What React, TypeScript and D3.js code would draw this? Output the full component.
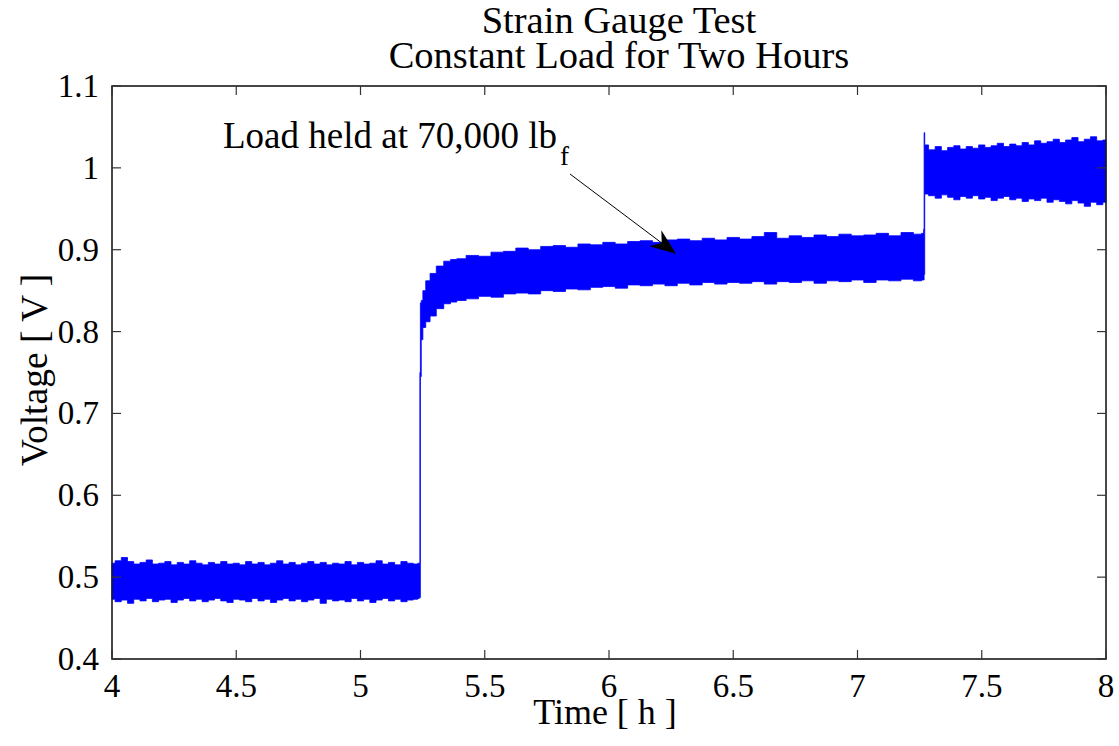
import React from "react";
import * as d3 from "d3";

// ---- Data ----
const titleLines = ["Strain Gauge Test", "Constant Load for Two Hours"];
const xLabel = "Time [ h ]";
const yLabel = "Voltage [ V ]";
const xTicks = [4, 4.5, 5, 5.5, 6, 6.5, 7, 7.5, 8];
const xTickLabels = ["4", "4.5", "5", "5.5", "6", "6.5", "7", "7.5", "8"];
const yTicks = [0.4, 0.5, 0.6, 0.7, 0.8, 0.9, 1.0, 1.1];
const yTickLabels = ["0.4", "0.5", "0.6", "0.7", "0.8", "0.9", "1", "1.1"];

// Envelope of the noisy voltage signal: time (h), upper and lower voltage (V)
const timeH = [
  // before the load step
  4.0, 4.025, 4.05, 4.075, 4.1, 4.125, 4.15, 4.175, 4.2, 4.225,
  4.25, 4.275, 4.3, 4.325, 4.35, 4.375, 4.4, 4.425, 4.45, 4.475,
  4.5, 4.525, 4.55, 4.575, 4.6, 4.625, 4.65, 4.675, 4.7, 4.725,
  4.75, 4.775, 4.8, 4.825, 4.85, 4.875, 4.9, 4.925, 4.95, 4.975,
  5.0, 5.025, 5.05, 5.075, 5.1, 5.125, 5.15, 5.175, 5.2, 5.225,
  5.236,
  // load held
  5.238, 5.24, 5.242, 5.247, 5.255, 5.27, 5.29, 5.32, 5.35, 5.375,
  5.4, 5.45, 5.5, 5.55, 5.6, 5.65, 5.7, 5.75, 5.8, 5.85,
  5.9, 5.95, 6.0, 6.05, 6.1, 6.15, 6.2, 6.25, 6.3, 6.35,
  6.4, 6.45, 6.5, 6.55, 6.6, 6.65, 6.7, 6.75, 6.8, 6.85,
  6.9, 6.95, 7.0, 7.05, 7.1, 7.15, 7.2, 7.25, 7.265,
  // after the second step
  7.267, 7.269, 7.272,
  7.3, 7.325, 7.35, 7.375, 7.4, 7.425, 7.45, 7.475, 7.5, 7.525,
  7.55, 7.575, 7.6, 7.625, 7.65, 7.675, 7.7, 7.725, 7.75, 7.775,
  7.8, 7.825, 7.85, 7.875, 7.9, 7.925, 7.95, 7.975, 8.0,
];
const upperV = [
  0.517, 0.52, 0.524, 0.519, 0.516, 0.518, 0.521, 0.516, 0.517, 0.519,
  0.515, 0.518, 0.516, 0.52, 0.517, 0.515, 0.518, 0.516, 0.519, 0.516,
  0.517, 0.515, 0.519, 0.516, 0.518, 0.515, 0.517, 0.52, 0.516, 0.518,
  0.515, 0.517, 0.519, 0.516, 0.518, 0.515, 0.517, 0.516, 0.519, 0.515,
  0.518, 0.516, 0.517, 0.52, 0.516, 0.518, 0.515, 0.519, 0.517, 0.516,
  0.517,
  0.517, 0.75, 0.835, 0.838, 0.85, 0.862, 0.871, 0.88, 0.886, 0.888,
  0.889, 0.893, 0.892, 0.897, 0.898, 0.902, 0.9, 0.904, 0.905, 0.903,
  0.907, 0.906, 0.909, 0.907, 0.91, 0.911, 0.909, 0.912, 0.913, 0.911,
  0.914, 0.912, 0.915, 0.913, 0.916, 0.921, 0.914, 0.917, 0.915, 0.918,
  0.916, 0.919, 0.917, 0.918, 0.92, 0.917, 0.921, 0.919, 0.92,
  0.925, 1.043, 1.028,
  1.022, 1.026, 1.021, 1.025, 1.027, 1.023, 1.026, 1.024, 1.028, 1.025,
  1.027, 1.03, 1.026, 1.029, 1.027, 1.031, 1.028, 1.033, 1.03, 1.032,
  1.035, 1.031, 1.034, 1.037, 1.032, 1.035, 1.038, 1.033, 1.034,
];
const lowerV = [
  0.473, 0.47, 0.472, 0.468, 0.473, 0.471, 0.474, 0.47, 0.472, 0.473,
  0.469, 0.472, 0.474, 0.471, 0.473, 0.47, 0.472, 0.474, 0.471, 0.469,
  0.473, 0.472, 0.47, 0.474, 0.471, 0.473, 0.469, 0.472, 0.474, 0.471,
  0.473, 0.47, 0.472, 0.474, 0.468, 0.473, 0.471, 0.472, 0.47, 0.474,
  0.471, 0.473, 0.469, 0.472, 0.474, 0.471, 0.473, 0.47, 0.472, 0.473,
  0.474,
  0.475, 0.475, 0.745, 0.79, 0.805, 0.812, 0.819, 0.828, 0.834, 0.836,
  0.838, 0.84, 0.843, 0.842, 0.846, 0.847, 0.846, 0.85, 0.849, 0.852,
  0.851, 0.854, 0.855, 0.853, 0.857, 0.856, 0.858, 0.856, 0.859, 0.857,
  0.86, 0.858, 0.86, 0.859, 0.861, 0.858, 0.861, 0.86, 0.862, 0.859,
  0.862, 0.861, 0.863, 0.86, 0.863, 0.862, 0.864, 0.862, 0.863,
  0.863, 0.87, 0.968,
  0.966, 0.963, 0.967, 0.964, 0.961, 0.965, 0.963, 0.966, 0.962, 0.964,
  0.96, 0.963, 0.965, 0.961, 0.963, 0.959, 0.962, 0.96, 0.963, 0.958,
  0.961, 0.959, 0.956, 0.96, 0.957, 0.953, 0.958, 0.955, 0.958,
];

const annotationText = "Load held at 70,000 lb";
const annotationSub = "f";
// arrow points to this data location
const arrowTip = { t: 6.27, v: 0.895 };

// ---- Layout ----
const W = 1119;
const H = 746;
const left = 112;
const right = 1106;
const top = 86;
const bottom = 659;
const FONT = "Liberation Serif";
const CSS =
  "svg.chart text, svg.chart tspan { font-family: 'Liberation Serif', 'Times New Roman', Tinos, serif !important; }";

export default function App() {
  const x = d3.scaleLinear().domain([4, 8]).range([left, right]);
  const y = d3.scaleLinear().domain([0.4, 1.1]).range([bottom, top]);

  const pts = timeH.map((t, i) => ({ t, u: upperV[i], l: lowerV[i] }));
  const area = d3
    .area<{ t: number; u: number; l: number }>()
    .x((d) => x(d.t))
    .y0((d) => y(d.l))
    .y1((d) => y(d.u))
    .curve(d3.curveStep);

  const tickLen = 9;

  // arrow geometry
  const sx = 570;
  const sy = 174;
  const tx = x(arrowTip.t);
  const ty = y(arrowTip.v);
  const dx = tx - sx;
  const dy = ty - sy;
  const len = Math.hypot(dx, dy);
  const ux = dx / len;
  const uy = dy / len;
  const px = -uy;
  const py = ux;
  const headLen = 26;
  const headHalf = 10;
  const notch = 18;
  const bx = tx - ux * headLen;
  const by = ty - uy * headLen;
  const head = [
    [tx, ty],
    [bx + px * headHalf, by + py * headHalf],
    [tx - ux * notch, ty - uy * notch],
    [bx - px * headHalf, by - py * headHalf],
  ];

  return (
    <svg className="chart" width={W} height={H} style={{ position: "absolute", left: 0, top: 0 }}>
      <style>{CSS}</style>
      <rect x={0} y={0} width={W} height={H} fill="#fff" />
      {/* data band */}
      <path d={area(pts) || ""} fill="#0000ff" stroke="#0000ff" strokeWidth={0.8} />

      {/* axes box */}
      <rect
        x={left}
        y={top}
        width={right - left}
        height={bottom - top}
        fill="none"
        stroke="#1a1a1a"
        strokeWidth={1.6}
      />
      {/* x ticks */}
      {xTicks.map((t, i) => (
        <g key={"xt" + i}>
          <line x1={x(t)} x2={x(t)} y1={bottom} y2={bottom - tickLen} stroke="#333" strokeWidth={1.2} />
          <line x1={x(t)} x2={x(t)} y1={top} y2={top + tickLen} stroke="#333" strokeWidth={1.2} />
          <text x={x(t)} y={697} textAnchor="middle" fontSize={33} fill="#000" fontFamily={FONT}>
            {xTickLabels[i]}
          </text>
        </g>
      ))}
      {/* y ticks */}
      {yTicks.map((v, i) => (
        <g key={"yt" + i}>
          <line x1={left} x2={left + tickLen} y1={y(v)} y2={y(v)} stroke="#333" strokeWidth={1.2} />
          <line x1={right} x2={right - tickLen} y1={y(v)} y2={y(v)} stroke="#333" strokeWidth={1.2} />
          <text x={99} y={y(v) + 11} textAnchor="end" fontSize={33} fill="#000" fontFamily={FONT}>
            {yTickLabels[i]}
          </text>
        </g>
      ))}

      {/* title */}
      <text x={619} y={33} textAnchor="middle" fontSize={38.5} fill="#000" fontFamily={FONT}>
        {titleLines[0]}
      </text>
      <text x={619} y={68} textAnchor="middle" fontSize={38.5} fill="#000" fontFamily={FONT}>
        {titleLines[1]}
      </text>

      {/* axis labels */}
      <text x={605} y={724} textAnchor="middle" fontSize={36} fill="#000" fontFamily={FONT}>
        {xLabel}
      </text>
      <text
        transform={`translate(47, 370) rotate(-90)`}
        textAnchor="middle"
        fontSize={37.5}
        fill="#000"
        fontFamily={FONT}
      >
        {yLabel}
      </text>

      {/* annotation */}
      <text x={223} y={148} fontSize={37} fill="#000" fontFamily={FONT}>
        {annotationText}
        <tspan fontSize={27} dx={3} dy={17}>
          {annotationSub}
        </tspan>
      </text>
      <line x1={sx} y1={sy} x2={tx - ux * notch} y2={ty - uy * notch} stroke="#000" strokeWidth={1} />
      <polygon points={head.map((p) => p.join(",")).join(" ")} fill="#000" />
    </svg>
  );
}
